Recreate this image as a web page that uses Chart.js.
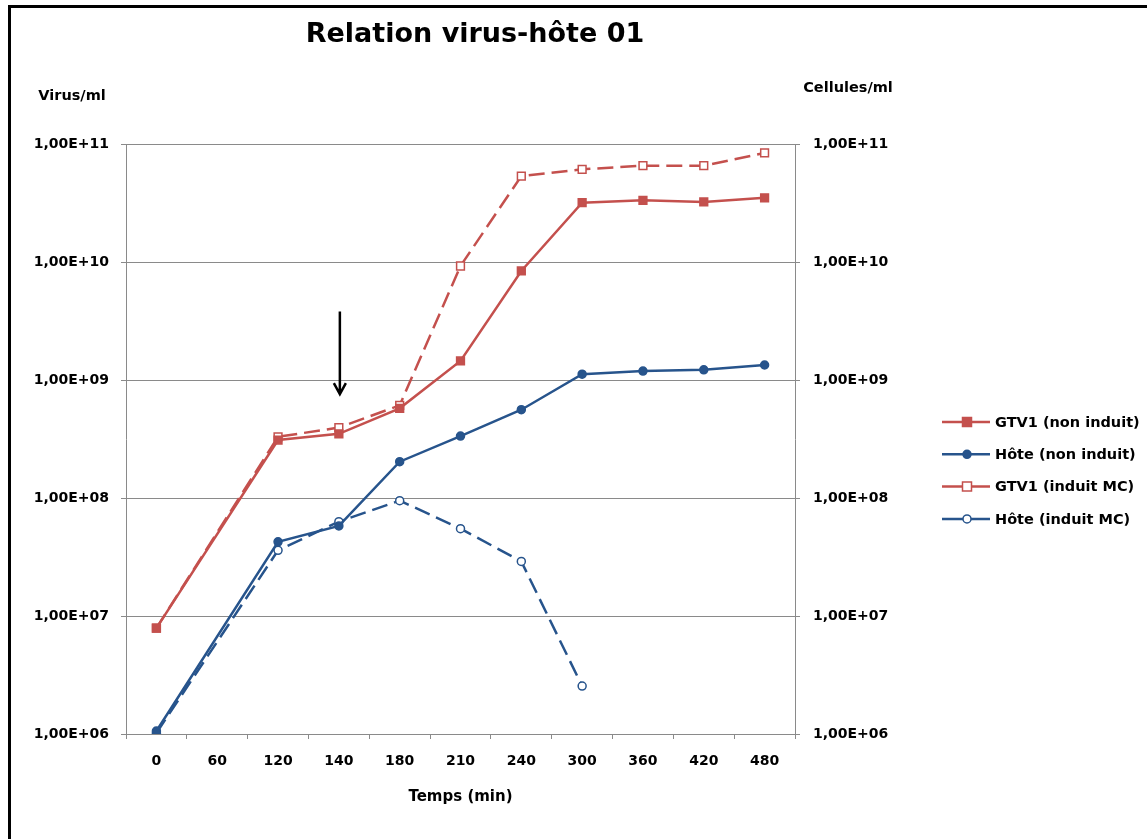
<!DOCTYPE html>
<html>
<head>
<meta charset="utf-8">
<title>Relation virus-hôte 01</title>
<script src="https://cdn.jsdelivr.net/npm/chart.js@4.4.1/dist/chart.umd.min.js"></script>
<style>
  html, body { margin: 0; padding: 0; background: #fff; overflow: hidden; }
  #frame {
    position: absolute; left: 8px; top: 5px; width: 1200px; height: 900px;
    border-left: 3px solid #000; border-top: 3px solid #000; pointer-events: none;
  }
  #chart { position: absolute; left: 0; top: 0; }
</style>
</head>
<body>
<canvas id="chart" width="1147" height="839"></canvas>
<div id="frame"></div>
<script>
// sampling times (min)
const timeLabels = ['0', '60', '120', '140', '180', '210', '240', '300', '360', '420', '480'];

// virus and host counts per ml (no sample at 60 min)
const gtv1NonInduit = [7.9e6, null, 3.1e8, 3.5e8, 5.75e8, 1.45e9, 8.4e9, 3.18e10, 3.33e10, 3.23e10, 3.5e10];
const hoteNonInduit = [1.06e6, null, 4.25e7, 5.8e7, 2.03e8, 3.35e8, 5.6e8, 1.12e9, 1.19e9, 1.22e9, 1.34e9];
const gtv1InduitMC = [7.9e6, null, 3.3e8, 3.95e8, 6.1e8, 9.25e9, 5.35e10, 6.1e10, 6.55e10, 6.55e10, 8.4e10];
const hoteInduitMC = [1.02e6, null, 3.6e7, 6.3e7, 9.5e7, 5.5e7, 2.9e7, 2.55e6, null, null, null];

// log axis decades
const decades = [1e6, 1e7, 1e8, 1e9, 1e10, 1e11];

// induction time marker
const arrowAt = '140';
const arrowFrom = 3.8e9;
const arrowTo = 7.6e8;

const RED = '#C4504D';
const BLUE = '#27548C';
const GRID = '#8A8A8A';
const FONT = 'DejaVu Sans';

Chart.defaults.font.family = FONT;
Chart.defaults.font.weight = 'bold';
Chart.defaults.font.size = 14;
Chart.defaults.color = '#000';

// Excel style scientific labels: 1,00E+11
function sci(v) {
  const exp = Math.round(Math.log10(v));
  const mant = (v / Math.pow(10, exp)).toFixed(2).replace('.', ',');
  return mant + 'E+' + (exp < 10 ? '0' + exp : exp);
}

function logAxis(position, width, padding) {
  return {
    type: 'logarithmic',
    position: position,
    min: 1e6,
    max: 1e11,
    afterBuildTicks: (scale) => { scale.ticks = decades.map((v) => ({ value: v })); },
    afterFit: (scale) => { scale.width = width; },
    ticks: {
      callback: (v) => sci(v),
      padding: padding,
      font: { size: 14, weight: 'bold' },
    },
    border: { color: GRID, width: 1 },
    grid: {
      color: GRID,
      lineWidth: 1,
      tickLength: 5,
      drawOnChartArea: position === 'left',
    },
  };
}

function series(label, data, color, style, filled, dashed) {
  return {
    label: label,
    data: data,
    borderColor: color,
    borderWidth: 2.5,
    borderDash: dashed ? [16, 7] : [],
    pointStyle: style,
    pointRadius: style === 'rect' ? 5.5 : 4,
    pointBorderWidth: 1.5,
    pointBorderColor: color,
    pointBackgroundColor: filled ? color : '#fff',
    spanGaps: true,
    tension: 0,
    yAxisID: 'y',
  };
}

// title, unit labels, induction arrow and the legend
const decorations = {
  id: 'decorations',
  afterDraw(chart) {
    const ctx = chart.ctx;
    const x = chart.scales.x;
    const y = chart.scales.y;
    ctx.save();
    ctx.fillStyle = '#000';
    ctx.textBaseline = 'alphabetic';
    ctx.textAlign = 'center';
    ctx.font = 'bold 27px "' + FONT + '"';
    ctx.fillText('Relation virus-hôte 01', 475, 42);
    ctx.font = 'bold 14.5px "' + FONT + '"';
    ctx.fillText('Virus/ml', 72, 100);
    ctx.fillText('Cellules/ml', 848, 92);

    // arrow
    const ax = x.getPixelForValue(timeLabels.indexOf(arrowAt)) + 1;
    const y0 = y.getPixelForValue(arrowFrom);
    const y1 = y.getPixelForValue(arrowTo);
    ctx.strokeStyle = '#000';
    ctx.lineWidth = 2.5;
    ctx.lineCap = 'butt';
    ctx.beginPath();
    ctx.moveTo(ax, y0);
    ctx.lineTo(ax, y1);
    ctx.moveTo(ax - 6, y1 - 11);
    ctx.lineTo(ax, y1);
    ctx.lineTo(ax + 6, y1 - 11);
    ctx.stroke();

    // legend
    ctx.textAlign = 'left';
    ctx.textBaseline = 'middle';
    chart.data.datasets.forEach((ds, i) => {
      const ly = 422 + i * 32.3;
      ctx.strokeStyle = ds.borderColor;
      ctx.lineWidth = 2.5;
      ctx.setLineDash([]);
      ctx.beginPath();
      ctx.moveTo(942, ly);
      ctx.lineTo(990, ly);
      ctx.stroke();
      ctx.fillStyle = ds.pointBackgroundColor;
      ctx.lineWidth = ds.pointBorderWidth;
      ctx.beginPath();
      if (ds.pointStyle === 'rect') {
        ctx.rect(962.5, ly - 4.5, 9, 9);
      } else {
        ctx.arc(967, ly, 4, 0, Math.PI * 2);
      }
      ctx.fill();
      ctx.stroke();
      ctx.fillStyle = '#000';
      ctx.fillText(ds.label, 995, ly + 1);
    });
    ctx.restore();
  },
};

new Chart(document.getElementById('chart'), {
  type: 'line',
  data: {
    labels: timeLabels,
    datasets: [
      series('GTV1 (non induit)', gtv1NonInduit, RED, 'rect', true, false),
      series('Hôte (non induit)', hoteNonInduit, BLUE, 'circle', true, false),
      series('GTV1 (induit MC)', gtv1InduitMC, RED, 'rect', false, true),
      series('Hôte (induit MC)', hoteInduitMC, BLUE, 'circle', false, true),
    ],
  },
  options: {
    responsive: false,
    animation: false,
    layout: { padding: { top: 144, left: 0, right: 0, bottom: 33 } },
    plugins: {
      legend: { display: false },
      title: { display: false },
      tooltip: { enabled: false },
    },
    scales: {
      x: {
        type: 'category',
        offset: true,
        afterFit: (scale) => { scale.height = 72; },
        ticks: { padding: 14, font: { size: 14, weight: 'bold' } },
        border: { color: GRID, width: 1 },
        grid: {
          offset: true,
          drawOnChartArea: false,
          color: GRID,
          tickLength: 5,
        },
        title: {
          display: true,
          text: 'Temps (min)',
          font: { size: 15, weight: 'bold' },
          padding: 0,
        },
      },
      y: logAxis('left', 126, 12),
      y2: logAxis('right', 352, 13),
    },
  },
  plugins: [decorations],
});
</script>
</body>
</html>
